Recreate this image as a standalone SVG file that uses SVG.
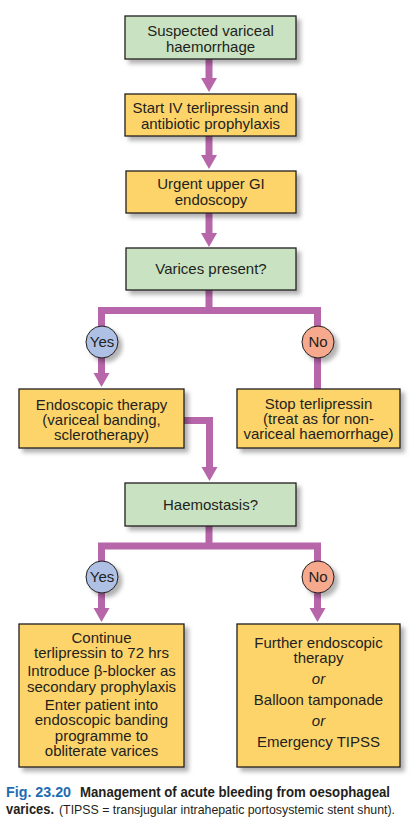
<svg xmlns="http://www.w3.org/2000/svg" width="416" height="820" viewBox="0 0 416 820">
<defs>
<filter id="sh" x="-10%" y="-10%" width="130%" height="140%">
<feDropShadow dx="4" dy="4" stdDeviation="2.2" flood-color="#000" flood-opacity="0.3"/>
</filter>
<style>
.g{fill:#c9e3c2;stroke:#231f20;stroke-width:1.3}
.y{fill:#fdd46a;stroke:#231f20;stroke-width:1.3}
.yes{fill:#aec1e5;stroke:#231f20;stroke-width:1}
.no{fill:#f7a98d;stroke:#231f20;stroke-width:1}
text{font-family:"Liberation Sans",Arial,sans-serif;font-size:15px;fill:#231f20;text-anchor:middle}
.c{fill:none;stroke:#b766aa;stroke-width:7}
.ah{fill:#b766aa}
.cap{text-anchor:start;font-size:14px;font-family:"Liberation Sans Narrow","Liberation Sans",Arial,sans-serif}
</style>
</defs>
<g id="connectors">
<path class="c" d="M209,59 V78"/>
<path class="ah" d="M201,78 H217 L209,92 Z"/>
<path class="c" d="M209,136 V155"/>
<path class="ah" d="M201,155 H217 L209,169 Z"/>
<path class="c" d="M209,213 V233"/>
<path class="ah" d="M201,233 H217 L209,247 Z"/>
<path class="c" d="M209,290 V310.5 M101.5,310.5 H317.5 M101.5,307 V327 M317.5,307 V327"/>
<path class="c" d="M101.5,357 V373"/>
<path class="ah" d="M93.5,373 H109.5 L101.5,387 Z"/>
<path class="c" d="M317.5,357 V389"/>
<path class="c" d="M184,420.5 H209.5 V467"/>
<path class="ah" d="M201.5,467 H217.5 L209.5,481 Z"/>
<path class="c" d="M209,526 V546 M101.5,546 H317.5 M101.5,542.5 V562 M317.5,542.5 V562"/>
<path class="c" d="M101.5,592 V609"/>
<path class="ah" d="M93.5,608 H109.5 L101.5,622 Z"/>
<path class="c" d="M317.5,592 V609"/>
<path class="ah" d="M309.5,608 H325.5 L317.5,622 Z"/>
</g>
<g id="n1"><rect class="g" x="125" y="16" width="171" height="43" filter="url(#sh)"/><text x="210.5" y="36">Suspected variceal</text><text x="210.5" y="52">haemorrhage</text></g>
<g id="n2"><rect class="y" x="125" y="94" width="171" height="42" filter="url(#sh)"/><text x="210.5" y="113">Start IV terlipressin and</text><text x="210.5" y="129">antibiotic prophylaxis</text></g>
<g id="n3"><rect class="y" x="126" y="171" width="170" height="42" filter="url(#sh)"/><text x="211" y="189">Urgent upper GI</text><text x="211" y="205">endoscopy</text></g>
<g id="n4"><rect class="g" x="126" y="248" width="170" height="42" filter="url(#sh)"/><text x="211" y="274">Varices present?</text></g>
<g id="yes1"><circle class="yes" cx="102" cy="342" r="16" filter="url(#sh)"/><text x="102" y="347" font-size="14.5">Yes</text></g>
<g id="no1"><circle class="no" cx="318" cy="342" r="16" filter="url(#sh)"/><text x="318" y="347" font-size="14.5">No</text></g>
<g id="n5"><rect class="y" x="19" y="389" width="165" height="59" filter="url(#sh)"/><text x="101.5" y="410">Endoscopic therapy</text><text x="101.5" y="425">(variceal banding,</text><text x="101.5" y="440">sclerotherapy)</text></g>
<g id="n6"><rect class="y" x="237" y="389" width="163" height="59" filter="url(#sh)"/><text x="318.5" y="409">Stop terlipressin</text><text x="318.5" y="424">(treat as for non-</text><text x="318.5" y="439">variceal haemorrhage)</text></g>
<g id="n7"><rect class="g" x="125" y="483" width="171" height="43" filter="url(#sh)"/><text x="210.5" y="510">Haemostasis?</text></g>
<g id="yes2"><circle class="yes" cx="102" cy="577" r="16" filter="url(#sh)"/><text x="102" y="582" font-size="14.5">Yes</text></g>
<g id="no2"><circle class="no" cx="318" cy="577" r="16" filter="url(#sh)"/><text x="318" y="582" font-size="14.5">No</text></g>
<g id="n8"><rect class="y" x="19" y="624" width="165" height="143" filter="url(#sh)"/>
<text x="101.5" y="643">Continue</text><text x="101.5" y="658">terlipressin to 72 hrs</text><text x="101.5" y="676">Introduce β-blocker as</text><text x="101.5" y="692">secondary prophylaxis</text><text x="101.5" y="710">Enter patient into</text><text x="101.5" y="725">endoscopic banding</text><text x="101.5" y="741">programme to</text><text x="101.5" y="756">obliterate varices</text></g>
<g id="n9"><rect class="y" x="237" y="624" width="163" height="143" filter="url(#sh)"/>
<text x="318.5" y="648">Further endoscopic</text><text x="318.5" y="663">therapy</text><text x="318.5" y="684" font-style="italic">or</text><text x="318.5" y="705">Balloon tamponade</text><text x="318.5" y="726" font-style="italic">or</text><text x="318.5" y="747">Emergency TIPSS</text></g>
<g id="caption">
<text class="cap" x="6" y="797" font-weight="bold"><tspan fill="#1d6db3" textLength="65" lengthAdjust="spacingAndGlyphs">Fig. 23.20</tspan><tspan x="80" textLength="310" lengthAdjust="spacingAndGlyphs">Management of acute bleeding from oesophageal</tspan></text>
<text class="cap" x="6" y="814"><tspan font-weight="bold" textLength="48" lengthAdjust="spacingAndGlyphs">varices.</tspan><tspan x="59" font-size="13" textLength="336" lengthAdjust="spacingAndGlyphs">(TIPSS = transjugular intrahepatic portosystemic stent shunt).</tspan></text>
</g>
</svg>
